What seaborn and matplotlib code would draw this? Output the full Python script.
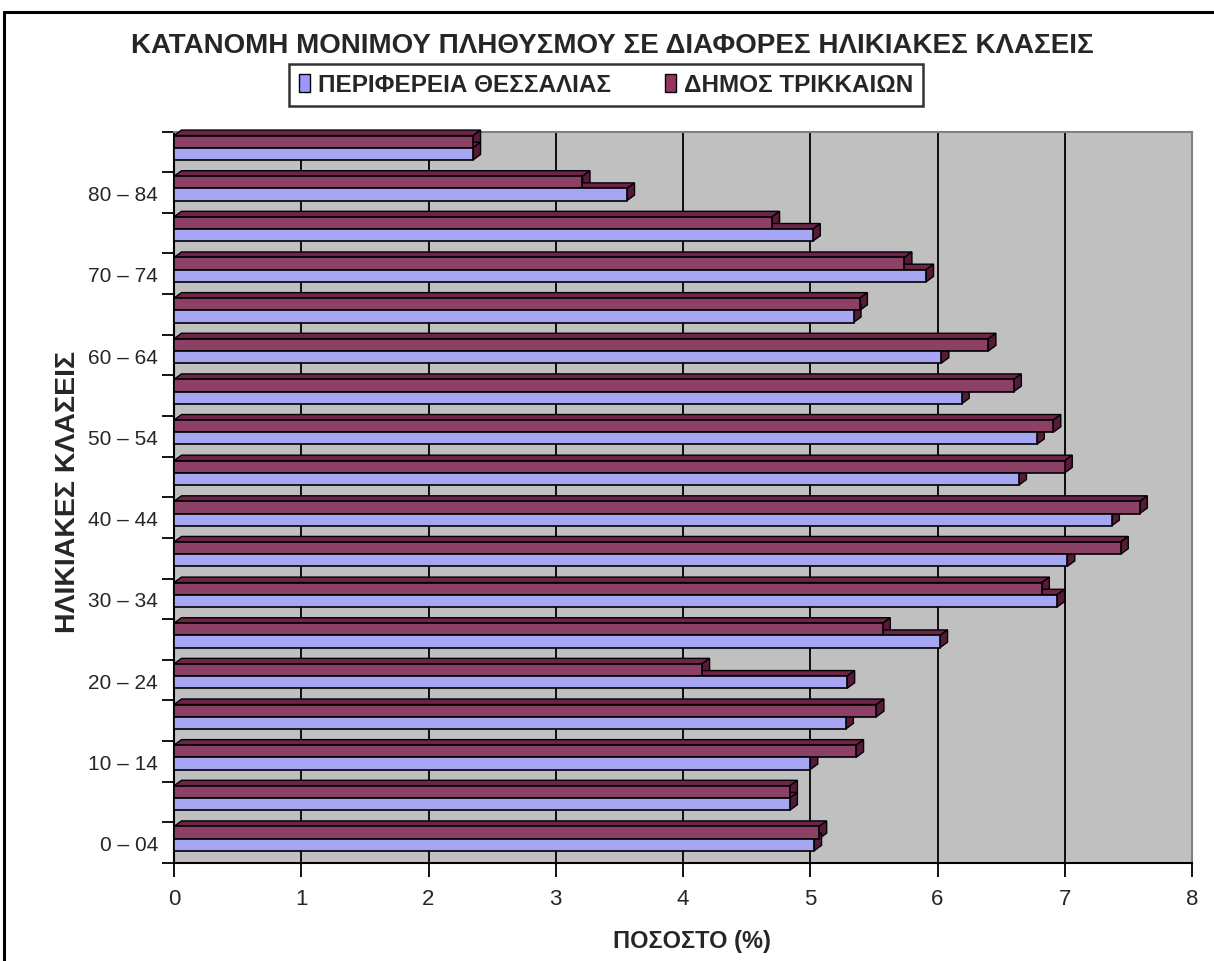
import matplotlib
matplotlib.use("Agg")
import matplotlib.pyplot as plt
from matplotlib.patches import Polygon, Patch
from matplotlib import font_manager
import seaborn as sns
import pandas as pd
import numpy as np

# ---------------- data ----------------
age_groups = ["85+", "80 – 84", "75 – 79", "70 – 74", "65 – 69", "60 – 64",
              "55 – 59", "50 – 54", "45 – 49", "40 – 44", "35 – 39", "30 – 34",
              "25 – 29", "20 – 24", "15 – 19", "10 – 14", "5 – 9", "0 – 04"]
shown_labels = ["80 – 84", "70 – 74", "60 – 64", "50 – 54", "40 – 44",
                "30 – 34", "20 – 24", "10 – 14", "0 – 04"]
thessaly = [2.35, 3.56, 5.02, 5.91, 5.34, 6.03, 6.19, 6.78, 6.64, 7.37,
            7.02, 6.94, 6.02, 5.29, 5.28, 5.00, 4.84, 5.03]
trikala = [2.35, 3.21, 4.70, 5.74, 5.39, 6.40, 6.60, 6.91, 7.00, 7.59,
           7.44, 6.82, 5.57, 4.15, 5.52, 5.36, 4.84, 5.07]
series_names = ["ΠΕΡΙΦΕΡΕΙΑ ΘΕΣΣΑΛΙΑΣ", "ΔΗΜΟΣ ΤΡΙΚΚΑΙΩΝ"]
title_text = "ΚΑΤΑΝΟΜΗ ΜΟΝΙΜΟΥ ΠΛΗΘΥΣΜΟΥ ΣΕ ΔΙΑΦΟΡΕΣ ΗΛΙΚΙΑΚΕΣ ΚΛΑΣΕΙΣ"
xlabel_text = "ΠΟΣΟΣΤΟ (%)"
ylabel_text = "ΗΛΙΚΙΑΚΕΣ ΚΛΑΣΕΙΣ"
x_ticks = [0, 1, 2, 3, 4, 5, 6, 7, 8]

# ---------------- style ----------------
col_front = {series_names[0]: "#9999FF", series_names[1]: "#993366"}
col_top = {series_names[0]: "#7070CC", series_names[1]: "#6E2449"}
col_side = {series_names[0]: "#5A5A99", series_names[1]: "#561B39"}

names = {f.name for f in font_manager.fontManager.ttflist}
narrow = "Liberation Sans Narrow" if "Liberation Sans Narrow" in names else "Liberation Sans"

sns.set_theme(style="white")
plt.rcParams["font.family"] = [narrow, "DejaVu Sans"]

df = pd.DataFrame({
    "age": age_groups * 2,
    "value": thessaly + trikala,
    "series": [series_names[0]] * len(age_groups) + [series_names[1]] * len(age_groups),
})

W, H = 1214, 962
fig = plt.figure(figsize=(W / 100, H / 100), dpi=100)
ax = fig.add_axes([174 / W, 1 - 864 / H, (1192 - 174) / W, (864 - 132.5) / H])

hue_order = [series_names[1], series_names[0]]  # purple on top within group
sns.barplot(data=df, x="value", y="age", hue="series", order=age_groups,
            hue_order=hue_order, orient="h", width=0.6,
            palette=col_front, edgecolor="black", linewidth=1.2,
            legend=False, ax=ax, zorder=3)

ax.set_facecolor("#C0C0C0")
ax.set_xlim(0, 8)
ax.set_ylim(len(age_groups) - 0.4, -0.4)

# gridlines
ax.set_xticks(x_ticks)
ax.xaxis.grid(True, color="black", linewidth=1.3, zorder=0)
ax.yaxis.grid(False)
ax.set_axisbelow(True)

# spines
for s in ["top", "right"]:
    ax.spines[s].set_color("#808080")
    ax.spines[s].set_linewidth(1.5)
for s in ["left", "bottom"]:
    ax.spines[s].set_color("black")
    ax.spines[s].set_linewidth(1.5)

# x ticks
ax.tick_params(axis="x", which="major", direction="out", length=10, width=1.3,
               color="black", labelsize=16, pad=8, bottom=True)
ax.set_xticklabels([str(t) for t in x_ticks])

# y ticks: marks at boundaries, labels at row centres
bounds = np.arange(-0.4, len(age_groups), 1.0)
ax.set_yticks(bounds)
ax.set_yticklabels([""] * len(bounds))
ax.tick_params(axis="y", which="major", direction="out", length=9, width=1.3,
               color="black", left=True)
label_pos = [age_groups.index(l) + 0.1 for l in shown_labels]
ax.set_yticks(label_pos, minor=True)
ax.set_yticklabels(shown_labels, minor=True)
ax.tick_params(axis="y", which="minor", length=0, labelsize=15, pad=11.5)
ax.set_xlabel("")
ax.set_ylabel("")

# 3D depth faces
fig.canvas.draw()
dx, dy = 7.5, 5.5
front_blue = matplotlib.colors.to_rgb(col_front[series_names[0]])
for p in list(ax.patches):
    x0, y0 = p.get_x(), p.get_y()
    w, h = p.get_width(), p.get_height()
    name = series_names[0] if np.allclose(p.get_facecolor()[:3], front_blue) else series_names[1]
    (ax0, ay_top), = ax.transData.transform([(x0, y0)])
    (ax1, ay_bot), = ax.transData.transform([(x0 + w, y0 + h)])
    top = [(ax0, ay_top), (ax1, ay_top), (ax1 + dx, ay_top + dy), (ax0 + dx, ay_top + dy)]
    side = [(ax1, ay_top), (ax1 + dx, ay_top + dy), (ax1 + dx, ay_bot + dy), (ax1, ay_bot)]
    zoff = 0.0 if name == series_names[0] else 0.5
    for poly, c in [(top, col_top[name]), (side, col_side[name])]:
        pg = Polygon(poly, closed=True, facecolor=c, edgecolor="black",
                     linewidth=1.0, transform=None, zorder=2.9 + zoff, clip_on=False)
        ax.add_artist(pg)
    p.set_zorder(3 + zoff)

# labels & title
fig.text(692 / W, 1 - 942 / H, xlabel_text, fontsize=17, fontweight="bold",
         ha="center", va="center")
fig.text(68 / W, 1 - 492 / H, ylabel_text, fontsize=20.5, fontweight="bold",
         rotation=90, ha="center", va="center", family=["Liberation Sans", "DejaVu Sans"])
fig.text(612 / W, 1 - 46 / H, title_text, fontsize=20, fontweight="bold",
         ha="center", va="center")

handles = [Patch(facecolor=col_front[n], edgecolor="black", linewidth=1.0) for n in series_names]
leg = fig.legend(handles, series_names, loc="center", bbox_to_anchor=(606 / W, 1 - 86 / H),
                 ncol=2, frameon=True, fancybox=False, handlelength=0.45, handleheight=0.8,
                 handletextpad=0.35, columnspacing=2.2, borderpad=0.4, borderaxespad=0,
                 prop={"family": [narrow, "DejaVu Sans"], "weight": "bold", "size": 17.5})
leg.get_frame().set_edgecolor("black")
leg.get_frame().set_linewidth(1.8)

# figure border (top and left)
fig.add_artist(plt.Line2D([4 / W, 4 / W], [0, 1 - 13 / H], color="black", linewidth=2.2,
                          transform=fig.transFigure))
fig.add_artist(plt.Line2D([4 / W, 1], [1 - 13 / H, 1 - 13 / H], color="black", linewidth=2.2,
                          transform=fig.transFigure))

fig.savefig("out.png", dpi=100, facecolor="white")
